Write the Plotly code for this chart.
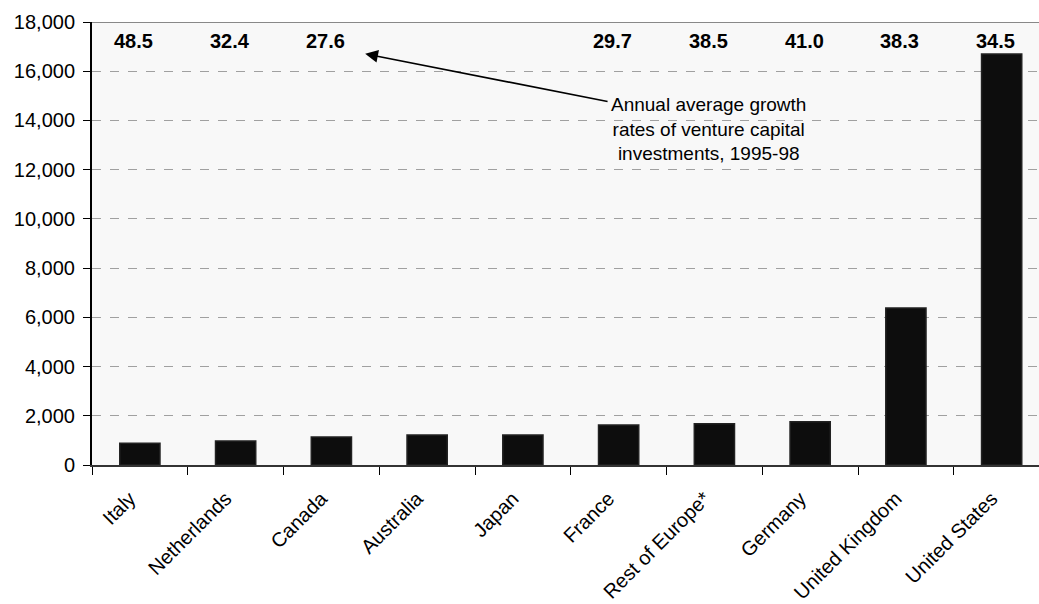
import plotly.graph_objects as go

countries = ["Italy", "Netherlands", "Canada", "Australia", "Japan", "France",
             "Rest of Europe*", "Germany", "United Kingdom", "United States"]
investment = [880, 975, 1140, 1220, 1220, 1625, 1680, 1760, 6380, 16700]
growth_countries = ["Italy", "Netherlands", "Canada", "France", "Rest of Europe*",
                    "Germany", "United Kingdom", "United States"]
growth_rates = ["48.5", "32.4", "27.6", "29.7", "38.5", "41.0", "38.3", "34.5"]

FONT = "Liberation Sans, Arial, sans-serif"

fig = go.Figure()
fig.add_trace(go.Bar(
    x=countries, y=investment, width=0.42,
    marker=dict(color="#0d0d0d", line=dict(color="#222222", width=1.5)),
))

annotations = []
for c, g in zip(growth_countries, growth_rates):
    annotations.append(dict(
        x=c, y=1, xref="x", yref="paper", text="<b>%s</b>" % g,
        showarrow=False, yanchor="top", yshift=-6, xshift=-6,
        font=dict(family=FONT, size=20, color="#000"),
    ))

# arrow
annotations.append(dict(
    x=2.353, y=16707, xref="x", yref="y",
    ax=4.9, ay=14756, axref="x", ayref="y",
    text="", showarrow=True, arrowhead=2, arrowsize=1.6, arrowwidth=1.6,
    arrowcolor="#000",
))
annotations.append(dict(
    x=5.94, y=13660, xref="x", yref="y",
    text="Annual average growth<br>rates of venture capital<br>investments, 1995-98",
    showarrow=False, align="center",
    font=dict(family=FONT, size=19, color="#000"),
))

fig.update_layout(
    width=1039, height=604,
    margin=dict(l=92, r=0, t=22, b=139),
    paper_bgcolor="white", plot_bgcolor="#f8f8f8",
    showlegend=False, bargap=0.58,
    font=dict(family=FONT, size=20, color="#000"),
    annotations=annotations,
    shapes=[dict(type="line", xref="paper", yref="y", x0=0, x1=1, y0=18000, y1=18000,
                 line=dict(color="#888888", width=2))],
)
fig.update_xaxes(
    type="category", range=[-0.5, 9.39],
    tickangle=-45, tickson="boundaries", ticks="outside", ticklen=8,
    tickcolor="#000", tickwidth=1, ticklabelstandoff=12, ticklabelshift=-10,
    showline=True, linecolor="#333333", linewidth=2,
    showgrid=False, tickfont=dict(family=FONT, size=20),
)
fig.update_yaxes(
    range=[0, 18000], dtick=2000, tickformat=",d",
    ticks="outside", ticklen=7, tickcolor="#000", ticklabelstandoff=4,
    showline=True, linecolor="#000", linewidth=2,
    showgrid=True, gridcolor="#a0a0a0", griddash="dash", gridwidth=1,
    zeroline=False, tickfont=dict(family=FONT, size=20),
)

fig.write_html("out.html")
